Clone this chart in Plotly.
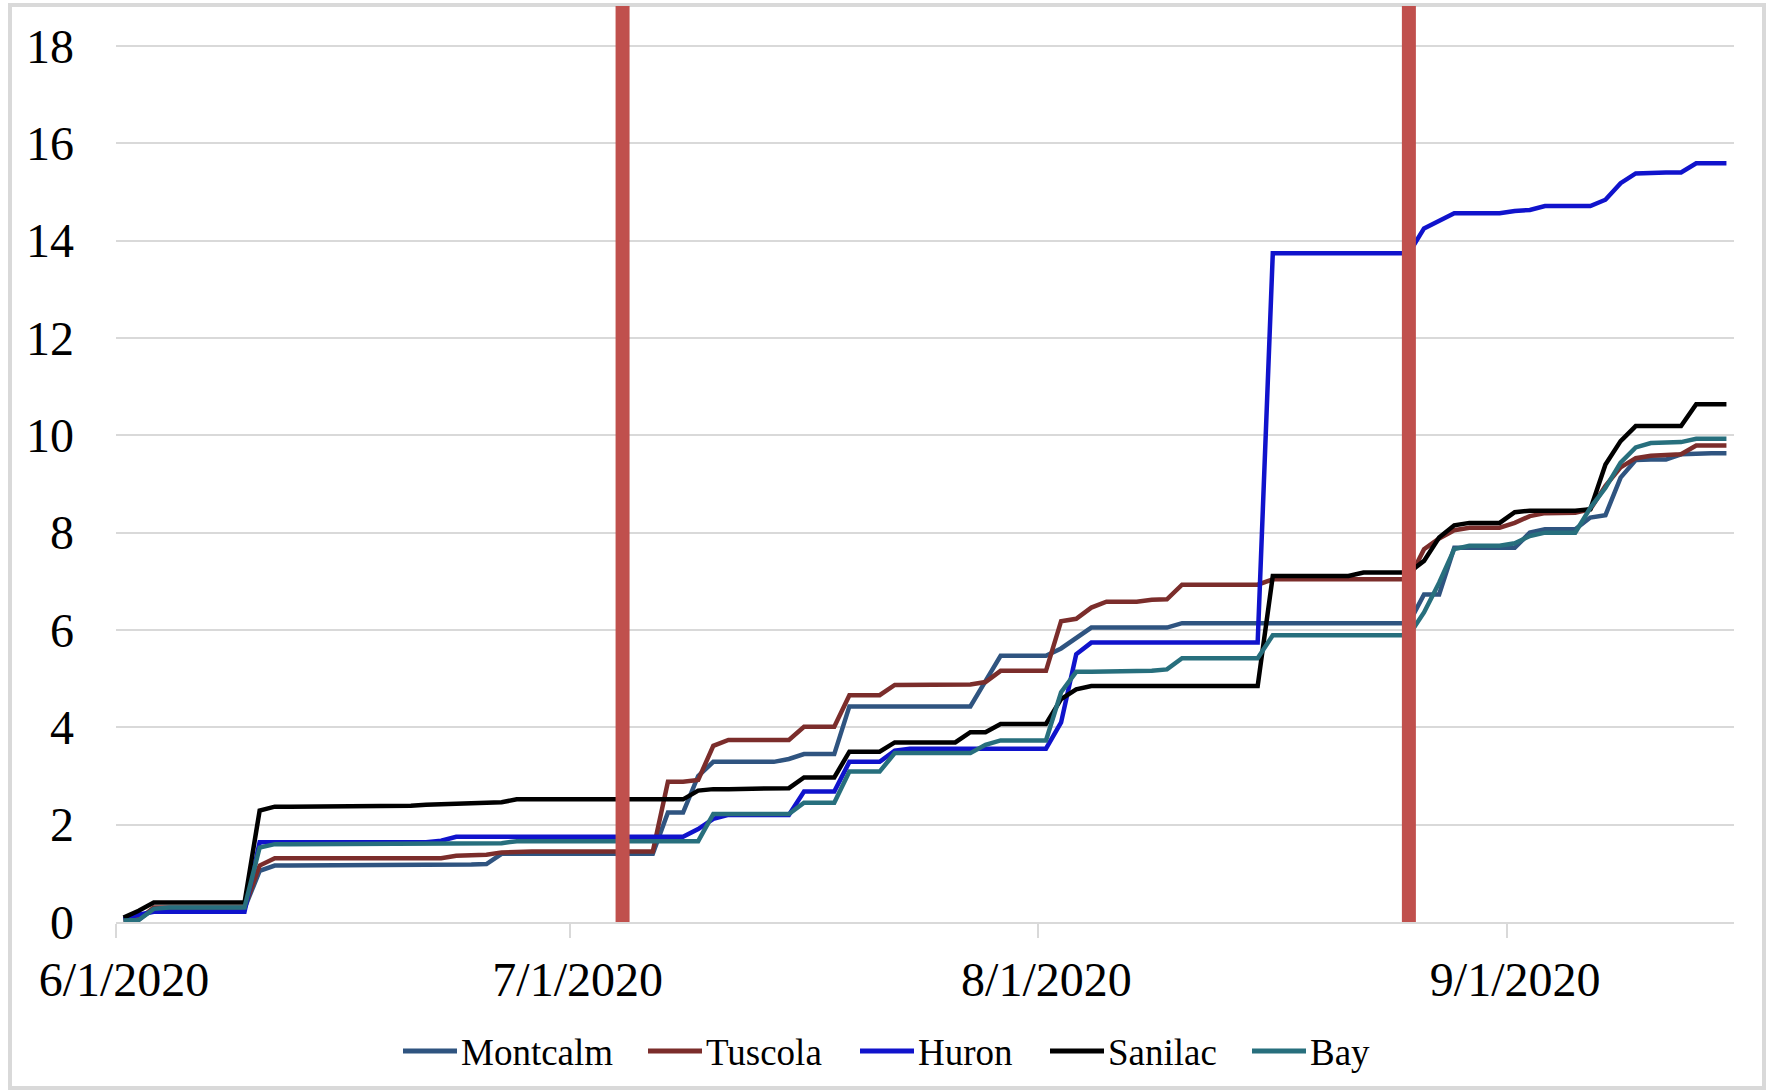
import pandas as pd
import plotly.graph_objects as go

start_date = "2020-06-01"
n_days = 107
dates = pd.date_range(start_date, periods=n_days, freq="D")

montcalm = [0.05, 0.05, 0.28, 0.28, 0.28, 0.28, 0.28, 0.28, 0.28, 1.05,
            1.16, 1.16, 1.16, 1.16, 1.16, 1.16, 1.16, 1.16, 1.16, 1.17,
            1.18, 1.18, 1.18, 1.18, 1.19, 1.40, 1.40, 1.40, 1.40, 1.40,
            1.40, 1.40, 1.40, 1.40, 1.40, 1.40, 2.25, 2.25, 3.00, 3.29,
            3.29, 3.29, 3.29, 3.29, 3.35, 3.45, 3.45, 3.45, 4.43, 4.43,
            4.43, 4.43, 4.43, 4.43, 4.43, 4.43, 4.43, 4.95, 5.47, 5.47,
            5.47, 5.47, 5.62, 5.84, 6.05, 6.05, 6.05, 6.05, 6.05, 6.05,
            6.14, 6.14, 6.14, 6.14, 6.14, 6.14, 6.14, 6.14, 6.14, 6.14,
            6.14, 6.14, 6.14, 6.14, 6.14, 6.14, 6.73, 6.73, 7.69, 7.69,
            7.69, 7.69, 7.69, 8.00, 8.07, 8.07, 8.07, 8.31, 8.36, 9.13,
            9.49, 9.50, 9.50, 9.61, 9.63, 9.63, 9.63]

tuscola = [0.05, 0.05, 0.30, 0.30, 0.30, 0.30, 0.30, 0.30, 0.30, 1.16,
           1.31, 1.31, 1.31, 1.31, 1.31, 1.31, 1.31, 1.31, 1.31, 1.31,
           1.31, 1.31, 1.36, 1.37, 1.38, 1.43, 1.45, 1.45, 1.45, 1.45,
           1.45, 1.45, 1.45, 1.45, 1.45, 1.45, 2.88, 2.88, 2.92, 3.62,
           3.74, 3.74, 3.74, 3.74, 3.74, 4.01, 4.01, 4.01, 4.66, 4.66,
           4.66, 4.87, 4.87, 4.87, 4.87, 4.87, 4.88, 4.93, 5.16, 5.16,
           5.16, 5.16, 6.18, 6.23, 6.46, 6.58, 6.58, 6.58, 6.62, 6.63,
           6.93, 6.93, 6.93, 6.93, 6.93, 6.93, 7.04, 7.04, 7.04, 7.04,
           7.04, 7.04, 7.04, 7.04, 7.04, 7.04, 7.66, 7.88, 8.05, 8.10,
           8.10, 8.10, 8.20, 8.34, 8.40, 8.41, 8.41, 8.48, 8.96, 9.34,
           9.53, 9.58, 9.59, 9.61, 9.79, 9.79, 9.79]

huron = [0.06, 0.15, 0.21, 0.21, 0.21, 0.21, 0.21, 0.21, 0.21, 1.64,
         1.64, 1.64, 1.64, 1.64, 1.64, 1.64, 1.64, 1.64, 1.64, 1.64,
         1.64, 1.67, 1.75, 1.75, 1.75, 1.75, 1.75, 1.75, 1.75, 1.75,
         1.75, 1.75, 1.75, 1.75, 1.75, 1.75, 1.75, 1.75, 1.91, 2.12,
         2.20, 2.20, 2.20, 2.20, 2.20, 2.68, 2.68, 2.68, 3.29, 3.29,
         3.29, 3.52, 3.56, 3.56, 3.56, 3.56, 3.56, 3.56, 3.56, 3.56,
         3.56, 3.56, 4.10, 5.50, 5.74, 5.74, 5.74, 5.74, 5.74, 5.74,
         5.74, 5.74, 5.74, 5.74, 5.74, 5.74, 13.74, 13.74, 13.74, 13.74,
         13.74, 13.74, 13.74, 13.74, 13.74, 13.74, 14.25, 14.41, 14.56, 14.56,
         14.56, 14.56, 14.61, 14.63, 14.71, 14.71, 14.71, 14.71, 14.84, 15.18,
         15.38, 15.40, 15.40, 15.40, 15.59, 15.59, 15.59]

sanilac = [0.09, 0.23, 0.40, 0.40, 0.40, 0.40, 0.40, 0.40, 0.40, 2.29,
           2.37, 2.37, 2.37, 2.37, 2.37, 2.37, 2.37, 2.37, 2.37, 2.39,
           2.41, 2.42, 2.45, 2.45, 2.45, 2.46, 2.52, 2.52, 2.52, 2.52,
           2.52, 2.52, 2.52, 2.52, 2.52, 2.52, 2.52, 2.52, 2.70, 2.73,
           2.73, 2.73, 2.73, 2.73, 2.75, 2.97, 2.97, 2.97, 3.50, 3.50,
           3.50, 3.69, 3.69, 3.69, 3.69, 3.69, 3.90, 3.90, 4.07, 4.07,
           4.07, 4.07, 4.58, 4.78, 4.85, 4.85, 4.85, 4.85, 4.85, 4.85,
           4.85, 4.85, 4.85, 4.85, 4.85, 4.85, 7.11, 7.11, 7.11, 7.11,
           7.11, 7.11, 7.18, 7.18, 7.18, 7.18, 7.42, 7.90, 8.15, 8.20,
           8.20, 8.20, 8.42, 8.45, 8.45, 8.45, 8.45, 8.48, 9.40, 9.88,
           10.19, 10.19, 10.19, 10.19, 10.64, 10.64, 10.64]

bay = [0.03, 0.04, 0.27, 0.30, 0.30, 0.30, 0.30, 0.30, 0.30, 1.53,
       1.60, 1.60, 1.60, 1.60, 1.60, 1.60, 1.60, 1.60, 1.60, 1.60,
       1.62, 1.62, 1.62, 1.62, 1.62, 1.62, 1.66, 1.66, 1.66, 1.66,
       1.66, 1.66, 1.66, 1.66, 1.66, 1.66, 1.66, 1.66, 1.66, 2.22,
       2.22, 2.22, 2.22, 2.22, 2.22, 2.45, 2.45, 2.45, 3.09, 3.09,
       3.09, 3.47, 3.47, 3.47, 3.47, 3.47, 3.47, 3.64, 3.73, 3.73,
       3.73, 3.73, 4.72, 5.14, 5.14, 5.14, 5.14, 5.14, 5.16, 5.19,
       5.42, 5.42, 5.42, 5.42, 5.42, 5.42, 5.89, 5.89, 5.89, 5.89,
       5.89, 5.89, 5.89, 5.89, 5.89, 5.89, 6.36, 6.97, 7.66, 7.73,
       7.73, 7.73, 7.78, 7.93, 8.00, 8.00, 8.00, 8.51, 8.92, 9.44,
       9.75, 9.84, 9.85, 9.86, 9.93, 9.93, 9.93]

series_names = ["Montcalm", "Tuscola", "Huron", "Sanilac", "Bay"]
series_values = [montcalm, tuscola, huron, sanilac, bay]
series_colors = ["#2F5480", "#7B2D2B", "#1013CC", "#000000", "#276F7D"]

event_dates = ["2020-07-04", "2020-08-25"]

tick_dates = ["2020-06-01", "2020-07-01", "2020-08-01", "2020-09-01"]
tick_labels = ["6/1/2020", "7/1/2020", "8/1/2020", "9/1/2020"]

y_ticks = list(range(0, 19, 2))

# ---- layout geometry (pixels) ----
W, H = 1774, 1091
ML, MR, MT, MB = 116, 40, 6, 169
PW, PH = W - ML - MR, H - MT - MB


def px_x(px):
    return (px - ML) / PW


def px_y(py):
    return (H - MB - py) / PH


# legend item left positions (pixels): line start
legend_line_x = [403, 648, 860, 1050, 1252]
legend_line_len = 54
legend_y = 1051

# Excel-style date axis: each day's point sits in the middle of its day slot
half_day = pd.Timedelta(hours=12)
x_points = dates + half_day
x_range = [dates[0], dates[-1] + pd.Timedelta(days=1)]
y_range = [0, 18.82]

FONT = "Liberation Serif"

fig = go.Figure()
for name, vals, col in zip(series_names, series_values, series_colors):
    fig.add_trace(go.Scatter(
        x=x_points, y=vals, name=name, mode="lines",
        line=dict(color=col, width=4.5, shape="linear"),
        showlegend=False,
    ))

for ev in event_dates:
    xe = pd.Timestamp(ev) + half_day
    fig.add_shape(type="line", xref="x", yref="y",
                  x0=xe, x1=xe, y0=y_range[0], y1=y_range[1],
                  line=dict(color="#C0504D", width=14), layer="above")

# chart-area border
fig.add_shape(type="rect", xref="paper", yref="paper",
              x0=px_x(10), x1=px_x(1764), y0=px_y(1088), y1=px_y(5),
              line=dict(color="#D9D9D9", width=4), layer="below")

# legend drawn manually to reproduce Excel's spacing
for name, col, lx in zip(series_names, series_colors, legend_line_x):
    fig.add_shape(type="line", xref="paper", yref="paper",
                  x0=px_x(lx), x1=px_x(lx + legend_line_len),
                  y0=px_y(legend_y), y1=px_y(legend_y),
                  line=dict(color=col, width=5))
    fig.add_annotation(xref="paper", yref="paper",
                       x=px_x(lx + legend_line_len + 3), y=px_y(legend_y + 1),
                       xanchor="left", yanchor="middle", showarrow=False,
                       text=name, borderpad=0,
                       font=dict(family=FONT, size=37, color="black"))

fig.update_layout(
    width=W, height=H,
    margin=dict(l=ML, r=MR, t=MT, b=MB, autoexpand=False),
    paper_bgcolor="white", plot_bgcolor="white",
    font=dict(family=FONT, color="black"),
    showlegend=False,
)

fig.update_xaxes(
    type="date", range=x_range, automargin=False,
    tickvals=[pd.Timestamp(t) for t in tick_dates], ticktext=tick_labels,
    tickfont=dict(family=FONT, size=48, color="black"),
    ticks="outside", ticklen=14, tickwidth=2, tickcolor="#D9D9D9",
    showline=True, linecolor="#D9D9D9", linewidth=2,
    showgrid=False, zeroline=False, ticklabelstandoff=0, ticklabelshift=8,
)
fig.update_yaxes(
    range=y_range, tickvals=y_ticks, automargin=False,
    tickfont=dict(family=FONT, size=48, color="black"),
    showgrid=True, gridcolor="#D9D9D9", gridwidth=2,
    zeroline=False, showline=False, ticks="",
    ticklabelstandoff=41,
)

fig.write_html(
    "out.html",
    config={"displayModeBar": False},
    post_script="document.body.style.margin='0';document.body.style.overflow='hidden';",
)
